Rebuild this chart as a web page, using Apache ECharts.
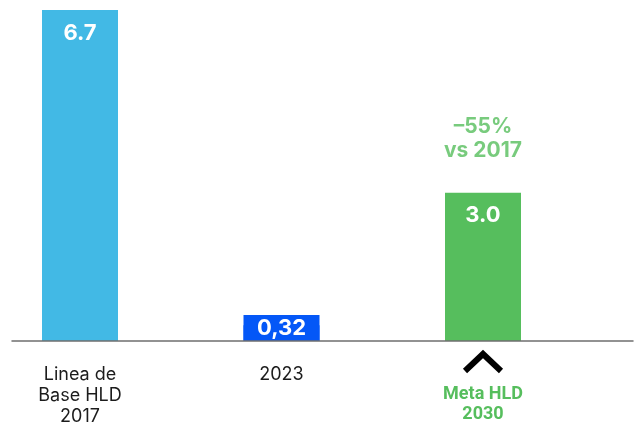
<!DOCTYPE html>
<html>
<head>
<meta charset="utf-8">
<script src="https://cdn.jsdelivr.net/npm/echarts@6/dist/echarts.min.js"></script>
<style>
  html, body { margin: 0; padding: 0; background: #ffffff; }
  #chart { width: 638px; height: 423px; }
</style>
</head>
<body>
<div id="chart"></div>
<script>
// Emissions: baseline, latest year and 2030 target
const categories = ['Linea de\nBase HLD\n2017', '2023', 'Meta HLD\n2030'];
const values = [6.7, 0.32, 3.0];
const valueLabels = ['6.7', '0,32', '3.0'];
const barColors = ['#42B9E5', '#0457F7', '#56BE5D'];
const targetNote = [null, null, '–55%\nvs 2017'];

const GREEN = '#56BE5D';
const FONT = 'Inter, Roboto, sans-serif';

const chart = echarts.init(document.getElementById('chart'), null, { renderer: 'canvas' });

const barData = values.map((v, i) => {
  const item = {
    value: v,
    itemStyle: { color: barColors[i] },
    label: { formatter: valueLabels[i] }
  };
  if (i === 1) {
    // small value: label sits on a coloured box that grows out of the bar
    item.label = {
      formatter: valueLabels[i],
      position: 'insideBottom',
      distance: 0,
      backgroundColor: barColors[i],
      width: 76,
      height: 26,
      lineHeight: 26,
      padding: 0,
      align: 'center'
    };
  }
  return item;
});

const noteData = values.map((v, i) => (targetNote[i] ? { value: v, note: targetNote[i] } : null));

chart.setOption({
  animation: false,
  backgroundColor: '#ffffff',
  grid: [
    { left: 80, width: 403, top: 10, height: 331, outerBoundsMode: 'none', containLabel: false },
    { left: 12, right: 5, top: 10, height: 331, outerBoundsMode: 'none', containLabel: false }
  ],
  xAxis: [
    {
      type: 'category',
      gridIndex: 0,
      boundaryGap: false,
      data: categories,
      axisLine: { show: false },
      axisTick: { show: false },
      axisLabel: {
        interval: 0,
        margin: 23,
        color: '#1c1c1c',
        fontFamily: FONT,
        fontSize: 18,
        lineHeight: 21,
        formatter: (val, idx) => {
          if (idx === 2) {
            const parts = val.split('\n');
            return '{sp| }\n{g|' + parts[0] + '}\n{g|' + parts[1] + '}';
          }
          return val;
        },
        rich: {
          sp: { lineHeight: 20, fontSize: 12 },
          g: {
            color: GREEN,
            fontWeight: 'bold',
            fontFamily: "'Liberation Sans Narrow', 'Roboto', sans-serif",
            fontSize: 18,
            lineHeight: 20
          }
        }
      }
    },
    {
      type: 'value',
      gridIndex: 1,
      min: 0,
      max: 1,
      z: 10,
      axisLine: { show: true, lineStyle: { color: '#6f6f6f', width: 1.5 } },
      axisTick: { show: false },
      axisLabel: { show: false },
      splitLine: { show: false }
    }
  ],
  yAxis: [
    { type: 'value', gridIndex: 0, min: 0, max: 6.7, show: false, splitLine: { show: false } },
    { type: 'value', gridIndex: 1, min: 0, max: 1, show: false, splitLine: { show: false } }
  ],
  series: [
    {
      type: 'bar',
      xAxisIndex: 0,
      yAxisIndex: 0,
      barWidth: 76,
      data: barData,
      label: {
        show: true,
        position: 'insideTop',
        distance: 12,
        color: '#ffffff',
        fontFamily: FONT,
        fontWeight: 'bold',
        fontSize: 22
      }
    },
    {
      type: 'scatter',
      xAxisIndex: 0,
      yAxisIndex: 0,
      symbolSize: 0,
      data: noteData,
      label: {
        show: true,
        position: 'top',
        distance: 30,
        color: GREEN,
        fontFamily: FONT,
        fontWeight: 'bold',
        fontSize: 21,
        lineHeight: 24,
        align: 'center',
        formatter: p => (p.data && p.data.note) || ''
      }
    }
  ]
});

// Upward chevron above the target category label
const base = chart.convertToPixel({ xAxisIndex: 0, yAxisIndex: 0 }, [2, 0]);
chart.setOption({
  graphic: [{
    type: 'polyline',
    z: 20,
    shape: {
      points: [
        [base[0] - 18, base[1] + 30],
        [base[0], base[1] + 13],
        [base[0] + 18, base[1] + 30]
      ]
    },
    style: { stroke: '#000000', lineWidth: 6, fill: null, lineJoin: 'miter', lineCap: 'butt' }
  }]
});
</script>
</body>
</html>
